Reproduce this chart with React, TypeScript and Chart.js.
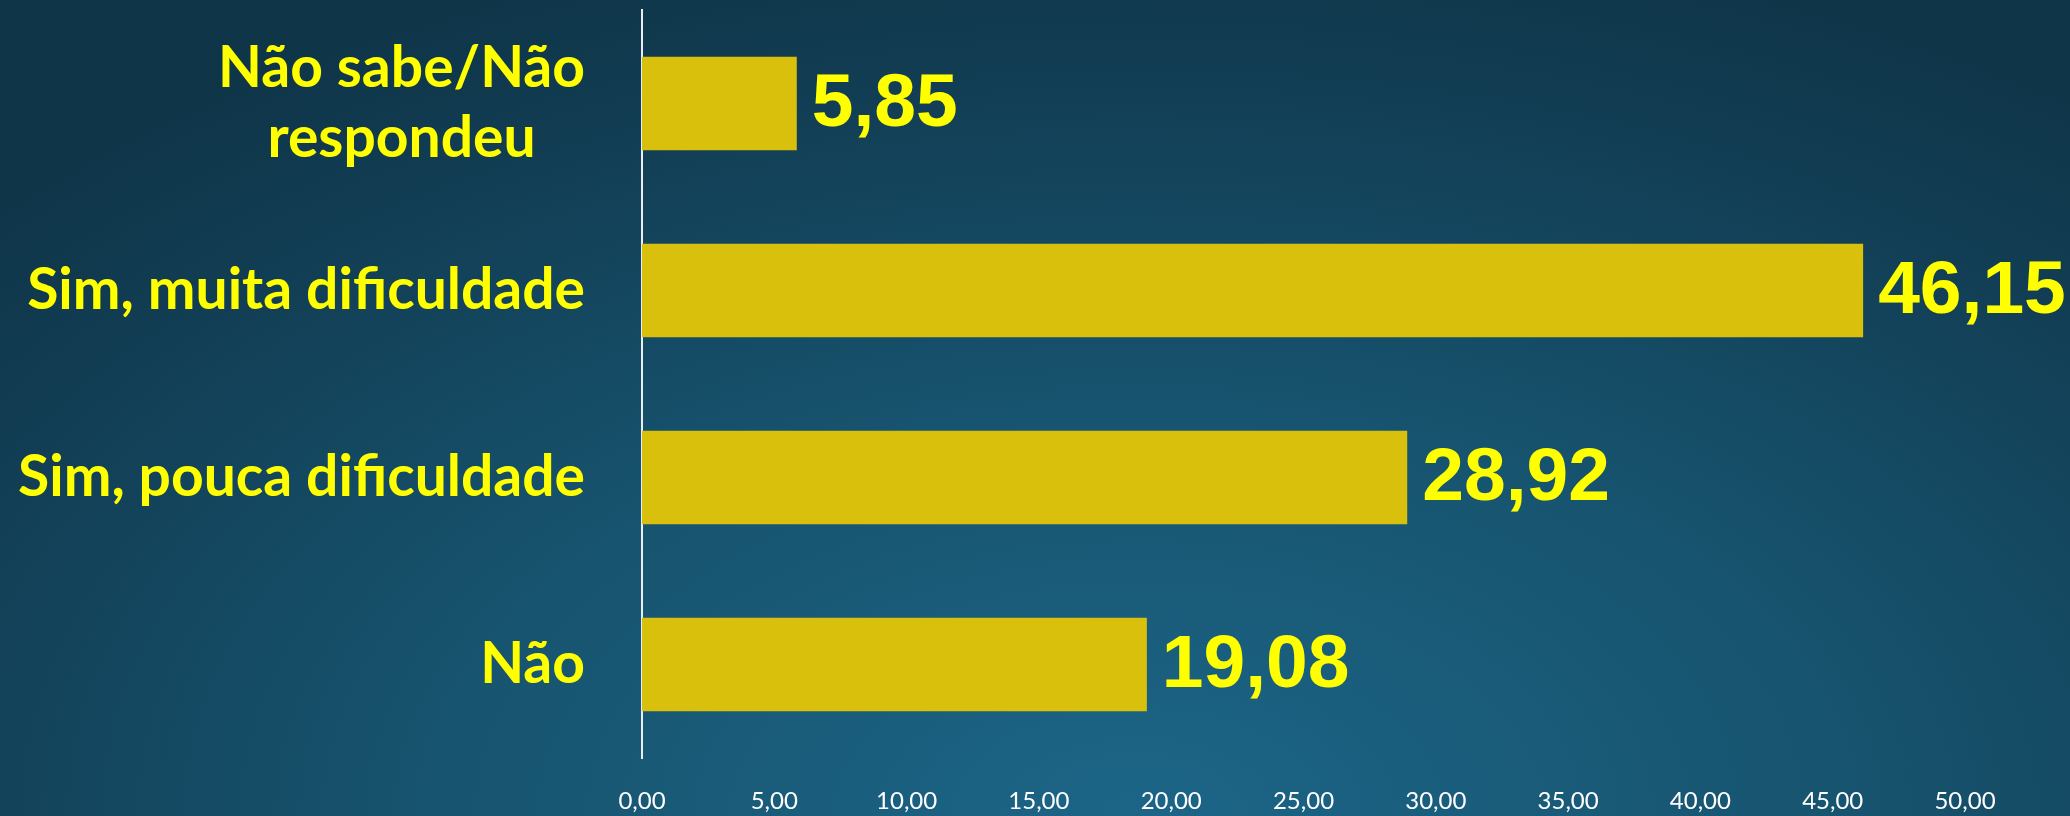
import React, { useEffect, useRef } from "react";
import { Chart, registerables } from "chart.js";

Chart.register(...registerables);

const categories: string[][] = [
  ["Não sabe/Não", "respondeu"],
  ["Sim, muita dificuldade"],
  ["Sim, pouca dificuldade"],
  ["Não"],
];
const values: number[] = [5.85, 46.15, 28.92, 19.08];
const axisMin = 0;
const axisMax = 50;
const axisStep = 5;

const fmt = (v: number) => v.toFixed(2).replace(".", ",");

const valueLabels = {
  id: "valueLabels",
  afterDatasetsDraw(chart: any) {
    const ctx = chart.ctx;
    const meta = chart.getDatasetMeta(0);
    ctx.save();
    ctx.fillStyle = "#ffff00";
    ctx.font = "bold 75px 'Liberation Sans', Arial, sans-serif";
    ctx.textAlign = "left";
    ctx.textBaseline = "middle";
    meta.data.forEach((bar: any, i: number) => {
      ctx.fillText(fmt(values[i]), bar.x + 15, bar.y + 2);
    });
    ctx.restore();
  },
};

const categoryLabels = {
  id: "categoryLabels",
  afterDraw(chart: any) {
    const ctx = chart.ctx;
    const yScale = chart.scales.y;
    const right = chart.chartArea.left - 57;
    ctx.save();
    ctx.fillStyle = "#ffff00";
    ctx.font = "bold 57px Lato, 'Open Sans', sans-serif";
    ctx.textBaseline = "middle";
    ctx.textAlign = "center";
    const lineH = 70;
    categories.forEach((lines, i) => {
      const yc = yScale.getPixelForValue(i);
      const w = Math.max(...lines.map((l) => ctx.measureText(l).width));
      const cx = right - w / 2;
      const y0 = yc - ((lines.length - 1) * lineH) / 2;
      lines.forEach((l, k) => {
        ctx.fillText(l, cx, y0 + k * lineH);
      });
    });
    ctx.restore();
  },
};

export default function App() {
  const ref = useRef<HTMLCanvasElement | null>(null);
  useEffect(() => {
    if (!ref.current) return;
    const chart = new Chart(ref.current, {
      type: "bar",
      data: {
        labels: categories.map((c) => c.join(" ")),
        datasets: [
          {
            data: values,
            backgroundColor: "#d8c00c",
            borderWidth: 0,
            barPercentage: 0.5,
            categoryPercentage: 1,
          },
        ],
      },
      options: {
        indexAxis: "y",
        responsive: false,
        animation: false,
        layout: { padding: { top: 10, right: 105, left: 0, bottom: 0 } },
        plugins: {
          legend: { display: false },
          tooltip: { enabled: false },
        },
        scales: {
          x: {
            min: axisMin,
            max: axisMax,
            grid: { display: false, drawTicks: false },
            border: { display: false },
            ticks: {
              stepSize: axisStep,
              color: "#ffffff",
              font: { family: "Lato, 'Open Sans', sans-serif", size: 24 },
              padding: 29,
              callback: (v: any) => fmt(Number(v)),
            },
            afterFit: (s: any) => {
              s.height = 58;
            },
          },
          y: {
            grid: { display: false, drawTicks: false },
            border: { display: true, color: "#e8eef2", width: 2 },
            ticks: { display: false },
            afterFit: (s: any) => {
              s.width = 642;
            },
          },
        },
      },
      plugins: [valueLabels, categoryLabels],
    });
    return () => chart.destroy();
  }, []);
  return (
    <div
      style={{
        position: "absolute",
        left: 0,
        top: 0,
        width: 2070,
        height: 816,
        background:
          "radial-gradient(ellipse 75% 110% at 55% 100%, #1c6587 0%, #17546f 45%, #123f56 80%, #0f3549 100%)",
      }}
    >
      <canvas ref={ref} width={2070} height={816} />
    </div>
  );
}
